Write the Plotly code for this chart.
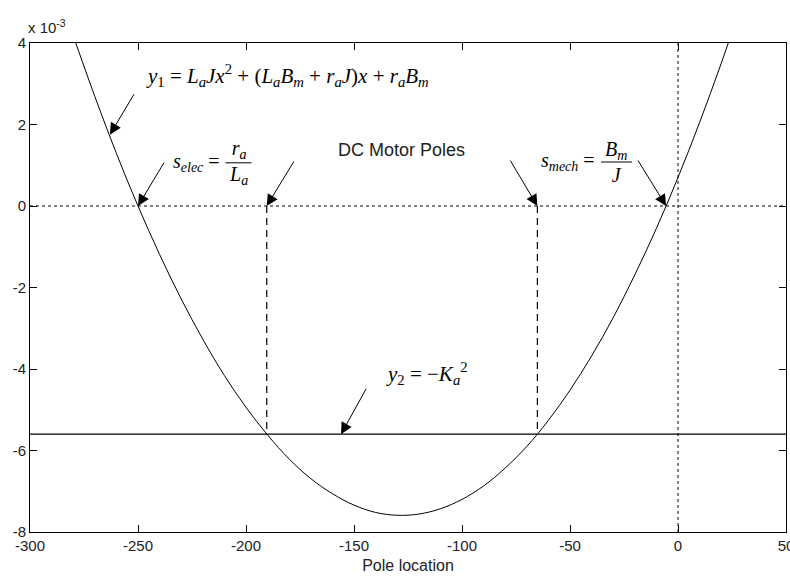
import plotly.graph_objects as go

# ---- data ----
x_pts = [-280, -270, -260, -250, -240, -230, -220, -210, -200, -190, -180, -170,
         -160, -150, -140, -130, -120, -110, -100, -90, -80, -70, -60, -50,
         -40, -30, -20, -10, 0, 10, 20, 30]
y1_vals = [4.18, 2.69, 1.29, 0.0, -1.19, -2.28, -3.27, -4.16, -4.94, -5.62, -6.21, -6.69,
           -7.06, -7.34, -7.52, -7.59, -7.56, -7.43, -7.20, -6.87, -6.43, -5.90, -5.26, -4.52,
           -3.68, -2.74, -1.69, -0.55, 0.70, 2.05, 3.50, 5.05]   # units of 1e-3
y2_value = -5.6          # -Ka^2, units of 1e-3
s_elec = -250.0
s_mech = -5.5
dc_poles = [-190.4, -65.1]
x_ticks = [-300, -250, -200, -150, -100, -50, 0, 50]
y_ticks = [-8, -6, -4, -2, 0, 2, 4]
x_range = [-300, 50]
y_range = [-8, 4]

SERIF = "Liberation Serif, Times New Roman, serif"
SANS = "Liberation Sans, Arial, sans-serif"

fig = go.Figure()

# parabola y1
fig.add_trace(go.Scatter(x=x_pts, y=y1_vals, mode="lines", line=dict(color="black", width=1, shape="spline"),
                         hoverinfo="skip"))
# y2 horizontal
fig.add_trace(go.Scatter(x=x_range, y=[y2_value, y2_value], mode="lines",
                         line=dict(color="black", width=1.3), hoverinfo="skip"))
# zero lines (dotted)
fig.add_trace(go.Scatter(x=x_range, y=[0, 0], mode="lines",
                         line=dict(color="black", width=1, dash="3px,3px"), hoverinfo="skip"))
fig.add_trace(go.Scatter(x=[0, 0], y=y_range, mode="lines",
                         line=dict(color="black", width=1, dash="3px,3px"), hoverinfo="skip"))
# DC pole drop lines
for p in dc_poles:
    fig.add_trace(go.Scatter(x=[p, p], y=[0, y2_value], mode="lines",
                             line=dict(color="black", width=1.2, dash="7px,5px"), hoverinfo="skip"))

ann = []
def arrow(x, y, ax, ay):
    ann.append(dict(x=x, y=y, xref="x", yref="y", ax=ax, ay=ay, text="", showarrow=True,
                    arrowhead=2, arrowsize=2.3, arrowwidth=1, arrowcolor="black", standoff=0))

arrow(-263, 1.75, 25, -42)
arrow(s_elec, 0, 27, -45)
arrow(dc_poles[0], 0, 28, -46)
arrow(dc_poles[1], 0, -28, -47)
arrow(s_mech, 0, -29, -47)
arrow(-156, y2_value, 26, -47)

def txt(x, y, s, size=20, font=SERIF, xanchor="center", color="black"):
    ann.append(dict(x=x, y=y, xref="x", yref="y", text=s, showarrow=False, xanchor=xanchor,
                    yanchor="middle", font=dict(family=font, size=size, color=color)))

txt(-181, 3.21,
    "<i>y</i><sub>1</sub> = <i>L<sub>a</sub>Jx</i><sup>2</sup> + (<i>L<sub>a</sub>B<sub>m</sub></i> + <i>r<sub>a</sub>J</i>)<i>x</i> + <i>r<sub>a</sub>B<sub>m</sub></i>",
    size=21)
# s_elec = r_a / L_a
txt(-211, 1.06, "<i>s<sub>elec</sub></i> =", xanchor="right")
txt(-203.5, 1.06, "<i>r<sub>a</sub></i><br><i>L<sub>a</sub></i>")
# DC Motor Poles
txt(-128.2, 1.37, "DC Motor Poles", size=18, font=SANS, color="#222")
# s_mech = B_m / J
txt(-37.5, 1.08, "<i>s<sub>mech</sub></i> =", xanchor="right")
txt(-28.5, 1.08, "<i>B<sub>m</sub></i><br><i>J</i>")
# y2
txt(-116.2, -4.10, "<i>y</i><sub>2</sub> = −<i>K</i><sub><i>a</i></sub><sup>2</sup>", size=21)
# exponent label
ann.append(dict(x=0, y=1, xref="paper", yref="paper", xanchor="left", yanchor="bottom", yshift=5, xshift=-4,
                text="x 10<sup>-3</sup>", showarrow=False, font=dict(family=SANS, size=15, color="#222")))

shapes = [
    dict(type="line", xref="x", yref="y", x0=-209.5, x1=-197.5, y0=1.06, y1=1.06,
         line=dict(color="black", width=1)),
    dict(type="line", xref="x", yref="y", x0=-35.6, x1=-21.3, y0=1.08, y1=1.08,
         line=dict(color="black", width=1)),
]

axis_common = dict(showline=True, linecolor="black", linewidth=1, mirror="ticks", ticks="inside",
                   ticklen=7, tickcolor="black", showgrid=False, zeroline=False, automargin=False,
                   ticklabeloverflow="allow",
                   tickfont=dict(family=SANS, size=15, color="#222"))

fig.update_layout(
    width=790, height=581, plot_bgcolor="white", paper_bgcolor="white",
    margin=dict(l=30, r=4, t=43, b=49), showlegend=False,
    annotations=ann, shapes=shapes,
    xaxis=dict(range=x_range, tickvals=x_ticks, ticktext=[str(v) for v in x_ticks],
               title=dict(text="Pole location", font=dict(family=SANS, size=16, color="#222"), standoff=6),
               **axis_common),
    yaxis=dict(range=y_range, tickvals=y_ticks, ticktext=[str(v) for v in y_ticks], **axis_common),
)

fig.write_html("out.html", config={"displayModeBar": False},
               post_script="document.body.style.margin='0';document.body.style.overflow='hidden';")
